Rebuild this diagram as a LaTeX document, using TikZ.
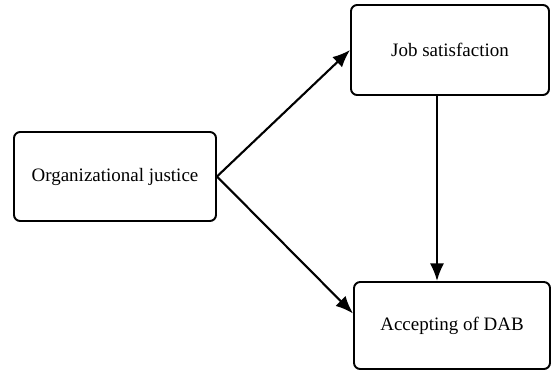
\documentclass[tikz,border=0pt]{standalone}
\usepackage{fontspec}
\setmainfont{Liberation Serif}
\usetikzlibrary{positioning,arrows.meta}
\tikzset{
  varbox/.style={
    draw=black,
    line width=1.1pt,
    rounded corners=3.5pt,
    align=center,
    inner sep=0pt,
    font=\fontsize{10.8}{13}\selectfont
  },
  path/.style={line width=1.2pt,-{Latex[length=10pt,width=8pt]}}
}
\begin{document}
\begin{tikzpicture}
\useasboundingbox (0,0) rectangle (11.04,7.44);

\node[varbox,minimum width=4.04cm,minimum height=1.78cm]
at (2.30,3.91) (org) {Organizational justice};
\node[varbox,minimum width=3.96cm,minimum height=1.80cm]
at (9.00,6.44) (job) {Job satisfaction};
\node[varbox,minimum width=3.92cm,minimum height=1.74cm]
at (9.04,0.93) (acc) {Accepting of DAB};

% paths between the variables
\draw[path] (org.east) -- (job.west);
\draw[path] (org.east) -- ([yshift=0.24cm]acc.west);
\draw[path] ([xshift=-0.26cm]job.south) -- ([xshift=-0.26cm]job.south |- acc.north);
\end{tikzpicture}
\end{document}
